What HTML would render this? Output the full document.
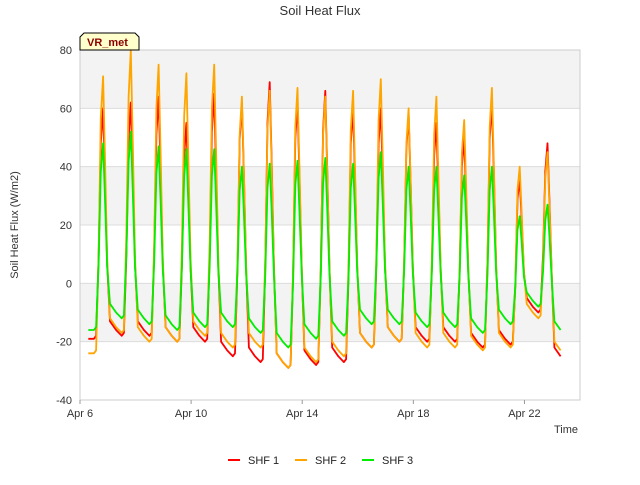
<!DOCTYPE html>
<html><head><meta charset="utf-8"><style>
body{margin:0;background:#fff;font-family:"Liberation Sans",sans-serif;}
</style></head><body>
<svg id="chart" width="640" height="480" xmlns="http://www.w3.org/2000/svg" font-family="Liberation Sans, sans-serif"></svg>
<script>
const dayStarts = [6,7,8,9,10,11,12,13,14,15,16,17,18,19,20,21,22];
const peakSHF1 = [60,62,64,55,65,62,69,62,66,60,60,58,55,50,62,36,48];
const peakSHF2 = [71,80,75,72,75,64,66,67,64,66,70,60,64,56,67,40,45];
const peakSHF3 = [48,52,47,46,46,40,41,42,43,41,45,40,40,37,40,23,27];
const minSHF1 = [-18,-18,-20,-20,-25,-27,-29,-28,-27,-22,-20,-20,-20,-22,-21,-10,-27];
const minSHF2 = [-17,-20,-20,-18,-22,-22,-29,-27,-25,-22,-20,-22,-22,-23,-22,-12,-25];
const minSHF3 = [-12,-14,-16,-15,-15,-17,-22,-19,-18,-14,-14,-15,-15,-17,-14,-8,-18];
const startVals = [-19,-24,-16];
const yTicks = [-40,-20,0,20,40,60,80];
const xTickDays = [6,10,14,18,22];
const xTickLabels = ["Apr 6","Apr 10","Apr 14","Apr 18","Apr 22"];
const seriesNames = ["SHF 1","SHF 2","SHF 3"];
const colors = ["#ff0000","#ffa500","#00ee00"];

const L=80,R=580,T=50,B=400;
const x = d => L + (d-6)/(24-6)*(R-L);
const y = v => B - (v+40)/120*(B-T);
const svg = document.getElementById('chart');
const NS='http://www.w3.org/2000/svg';
function mk(tag, attrs, parent){const e=document.createElementNS(NS,tag);for(const k in attrs)e.setAttribute(k,attrs[k]);(parent||svg).appendChild(e);return e;}

for(let i=0;i<yTicks.length-1;i++){
  if(i%2===1){const r=mk('rect',{x:L,y:y(yTicks[i+1]),width:R-L,height:y(yTicks[i])-y(yTicks[i+1]),fill:'#f3f3f3'});
  
  }
}
yTicks.forEach(v=>{const l=mk('line',{x1:L,x2:R,y1:y(v),y2:y(v),stroke:'#dcdcdc','stroke-width':1});
  
  
  const t=mk('text',{x:L-8,y:y(v)+4,'text-anchor':'end','font-size':11,fill:'#333'});t.textContent=v;
  
  });
mk('rect',{x:L,y:T,width:R-L,height:B-T,fill:'none',stroke:'#ccc'});
xTickDays.forEach((d,i)=>{mk('line',{x1:x(d),x2:x(d),y1:B,y2:B+4,stroke:'#999'});
  const t=mk('text',{x:x(d),y:B+17,'text-anchor':'middle','font-size':11,fill:'#333'});t.textContent=xTickLabels[i];
  
  });

const peaks=[peakSHF1,peakSHF2,peakSHF3], mins=[minSHF1,minSHF2,minSHF3];
for(let s=0;s<3;s++){
  const pts=[[6.3,startVals[s]],[6.5,startVals[s]]];
  dayStarts.forEach((d,i)=>{
    const p=peaks[s][i], m=mins[s][i];
    const prevM = i===0?startVals[s]:mins[s][i-1];
    pts.push([d+0.58,prevM+1],[d+0.67,prevM+(p-prevM)*0.35],[d+0.75,p*0.8],[d+0.83,p],[d+0.9,p*0.6],[d+0.98,(p+m)*0.15],[d+1.08,m+5],[d+1.3,m+2],[d+1.5,m]);
  });
  const last=pts.filter(q=>q[0]<=23.4);
  const path=mk('path',{d:'M'+last.map(q=>x(q[0]).toFixed(1)+','+y(q[1]).toFixed(1)).join('L'),fill:'none',stroke:colors[s],'stroke-width':1.8,'stroke-linejoin':'round'});
  
  
}

let t=mk('text',{x:320,y:15,'text-anchor':'middle','font-size':13,fill:'#333'});t.textContent='Soil Heat Flux';

t=mk('text',{x:18,y:225,'text-anchor':'middle','font-size':11,fill:'#333',transform:'rotate(-90 18 225)'});t.textContent='Soil Heat Flux (W/m2)';

t=mk('text',{x:578,y:433,'text-anchor':'end','font-size':11,fill:'#333'});t.textContent='Time';


const g=mk('g',{});
mk('path',{d:'M80,50 L80,37 L84,33 L135,33 L139,37 L139,50 Z',fill:'#ffffcc',stroke:'#000'},g);
t=mk('text',{x:87,y:46,'font-size':11,'font-weight':'bold',fill:'#8b0000'},g);t.textContent='VR_met';

const lx=[228,295,362];
seriesNames.forEach((n,i)=>{const lg=mk('g',{});
  mk('line',{x1:lx[i],x2:lx[i]+12,y1:460,y2:460,stroke:colors[i],'stroke-width':2},lg);
  const tt=mk('text',{x:lx[i]+20,y:464,'font-size':11,fill:'#222'},lg);tt.textContent=n;});
</script>
</body></html>
